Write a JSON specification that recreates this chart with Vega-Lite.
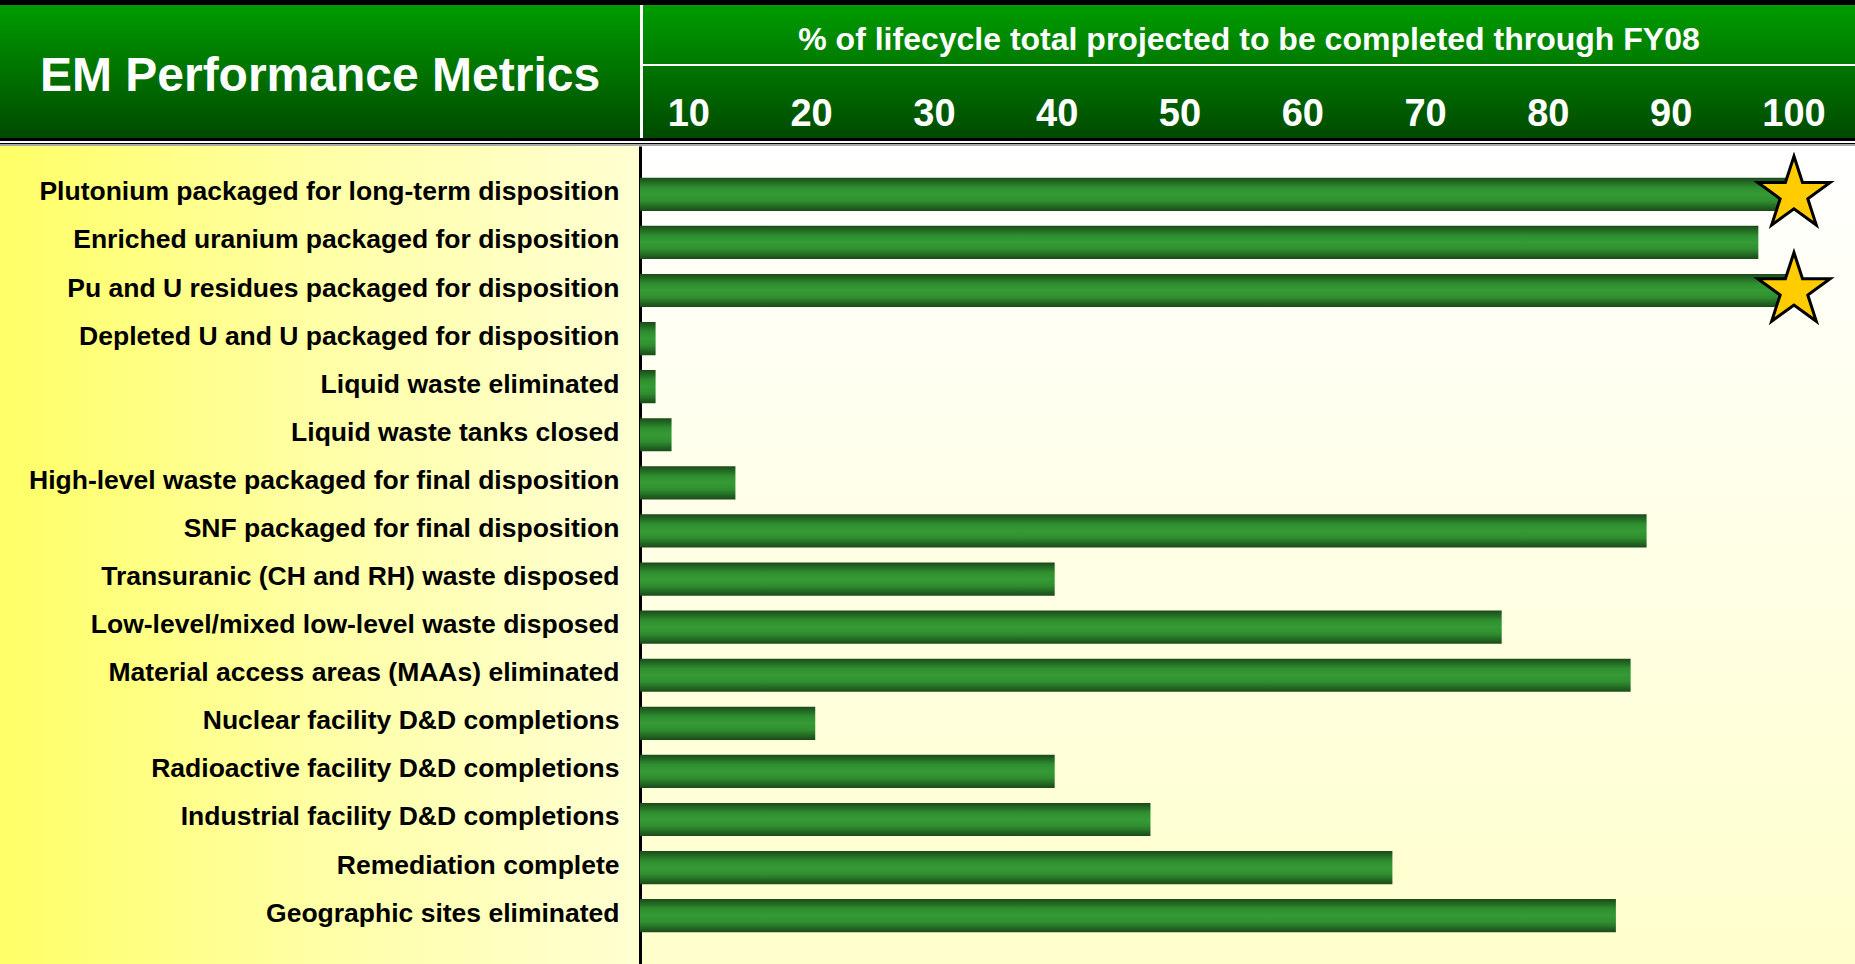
{
  "$schema": "https://vega.github.io/schema/vega-lite/v6.json",
  "padding": 0,
  "background": "white",
  "spacing": 0,
  "bounds": "full",
  "config": {"view": {"stroke": null}, "font": "Liberation Sans"},
  "datasets": {
    "metrics": [
      {"metric": "Plutonium packaged for long-term disposition", "pct": 100, "star": true},
      {"metric": "Enriched uranium packaged for disposition", "pct": 97.1, "star": false},
      {"metric": "Pu and U residues packaged for disposition", "pct": 100, "star": true},
      {"metric": "Depleted U and U packaged for disposition", "pct": 7.3, "star": false},
      {"metric": "Liquid waste eliminated", "pct": 7.3, "star": false},
      {"metric": "Liquid waste tanks closed", "pct": 8.6, "star": false},
      {"metric": "High-level waste packaged for final disposition", "pct": 13.8, "star": false},
      {"metric": "SNF packaged for final disposition", "pct": 88.0, "star": false},
      {"metric": "Transuranic (CH and RH)  waste disposed", "pct": 39.8, "star": false},
      {"metric": "Low-level/mixed low-level waste disposed", "pct": 76.2, "star": false},
      {"metric": "Material access areas (MAAs) eliminated", "pct": 86.7, "star": false},
      {"metric": "Nuclear facility D&D completions", "pct": 20.3, "star": false},
      {"metric": "Radioactive facility D&D completions", "pct": 39.8, "star": false},
      {"metric": "Industrial facility D&D completions", "pct": 47.6, "star": false},
      {"metric": "Remediation complete", "pct": 67.3, "star": false},
      {"metric": "Geographic sites eliminated", "pct": 85.5, "star": false}
    ],
    "ticks": [
      {"tick": 10}, {"tick": 20}, {"tick": 30}, {"tick": 40}, {"tick": 50},
      {"tick": 60}, {"tick": 70}, {"tick": 80}, {"tick": 90}, {"tick": 100}
    ],
    "none": [],
    "headerTitle": [{"t": "EM Performance Metrics"}],
    "axisTitle": [{"t": "% of lifecycle total projected to be completed through FY08"}]
  },
  "vconcat": [
    {
      "width": 1855, "height": 5,
      "view": {"fill": "#000000", "stroke": null},
      "data": {"name": "none"},
      "mark": {"type": "text"},
      "encoding": {"text": {"field": "t"}}
    },
    {
      "spacing": 3,
      "bounds": "full",
      "hconcat": [
        {
          "width": 640, "height": 133,
          "view": {"stroke": null, "fill": {"gradient": "linear", "x1": 0, "y1": 0, "x2": 0, "y2": 1, "stops": [{"offset": 0, "color": "#009c00"}, {"offset": 1, "color": "#004a00"}]}},
          "data": {"name": "headerTitle"},
          "mark": {"type": "text", "color": "white", "fontWeight": "bold", "fontSize": 48, "baseline": "middle", "align": "center", "dy": 5},
          "encoding": {"text": {"field": "t"}}
        },
        {
          "spacing": 2,
          "bounds": "full",
          "vconcat": [
            {
              "width": 1212, "height": 59,
              "view": {"stroke": null, "fill": {"gradient": "linear", "x1": 0, "y1": 0, "x2": 0, "y2": 1, "stops": [{"offset": 0, "color": "#009c00"}, {"offset": 1, "color": "#007a00"}]}},
              "data": {"name": "axisTitle"},
              "mark": {"type": "text", "color": "white", "fontWeight": "bold", "fontSize": 32, "baseline": "middle", "align": "center", "dy": 5},
              "encoding": {"text": {"field": "t"}}
            },
            {
              "width": 1212, "height": 72,
              "view": {"stroke": null, "fill": {"gradient": "linear", "x1": 0, "y1": 0, "x2": 0, "y2": 1, "stops": [{"offset": 0, "color": "#007600"}, {"offset": 1, "color": "#004a00"}]}},
              "data": {"name": "ticks"},
              "mark": {"type": "text", "color": "white", "fontWeight": "bold", "fontSize": 38, "baseline": "middle", "align": "center", "dy": 13},
              "encoding": {
                "x": {"field": "tick", "type": "quantitative", "scale": {"domain": [6.27, 104.97], "nice": false, "zero": false}, "axis": null},
                "text": {"field": "tick", "type": "quantitative"}
              }
            }
          ]
        }
      ]
    },
    {
      "width": 1855, "height": 3,
      "view": {"fill": "#000000", "stroke": null},
      "data": {"name": "none"},
      "mark": {"type": "text"},
      "encoding": {"text": {"field": "t"}}
    },
    {
      "width": 1855, "height": 2,
      "view": {"fill": "#ffffff", "stroke": null},
      "data": {"name": "none"},
      "mark": {"type": "text"},
      "encoding": {"text": {"field": "t"}}
    },
    {
      "width": 1855, "height": 1,
      "view": {"fill": "#000000", "stroke": null},
      "data": {"name": "none"},
      "mark": {"type": "text"},
      "encoding": {"text": {"field": "t"}}
    },
    {
      "width": 1855, "height": 2,
      "view": {"fill": "#a8a8a8", "stroke": null},
      "data": {"name": "none"},
      "mark": {"type": "text"},
      "encoding": {"text": {"field": "t"}}
    },
    {
      "spacing": 0,
      "bounds": "flush",
      "hconcat": [
        {
          "width": 640, "height": 818,
          "view": {"stroke": null, "fill": {"gradient": "linear", "x1": 0, "y1": 0, "x2": 1, "y2": 0, "stops": [{"offset": 0, "color": "#ffff66"}, {"offset": 0.5, "color": "#ffffa6"}, {"offset": 1, "color": "#ffffd2"}]}},
          "data": {"name": "none"},
          "mark": {"type": "text"},
          "encoding": {"text": {"field": "t"}}
        },
        {
          "width": 1215, "height": 818,
          "view": {"stroke": null, "fill": {"gradient": "linear", "x1": 0, "y1": 0, "x2": 0, "y2": 1, "stops": [{"offset": 0, "color": "#ffffff"}, {"offset": 1, "color": "#ffffcc"}]}},
          "data": {"name": "metrics"},
          "encoding": {
            "y": {
              "field": "metric", "type": "nominal", "sort": null,
              "scale": {"paddingInner": 0.31, "paddingOuter": 0.66},
              "axis": {
                "title": null, "ticks": false, "tickSize": 0, "grid": false,
                "domain": true, "domainColor": "#000000", "domainWidth": 3,
                "labelFont": "Liberation Sans", "labelFontWeight": "bold", "labelFontSize": 26.5,
                "labelColor": "#000000", "labelLimit": 640, "labelPadding": 21, "labelOffset": -2
              }
            },
            "x": {"field": "pct", "type": "quantitative", "scale": {"domain": [6.03, 104.97], "nice": false, "zero": false}, "axis": null}
          },
          "layer": [
            {
              "mark": {
                "type": "bar", "clip": true,
                "color": {"gradient": "linear", "x1": 0, "y1": 0, "x2": 0, "y2": 1, "stops": [
                  {"offset": 0, "color": "#1a4a1a"},
                  {"offset": 0.3, "color": "#2f8f2f"},
                  {"offset": 0.5, "color": "#359a35"},
                  {"offset": 0.7, "color": "#2f8f2f"},
                  {"offset": 1, "color": "#1a4a1a"}
                ]}
              }
            },
            {
              "transform": [{"filter": "datum.star"}],
              "mark": {
                "type": "point", "filled": true, "opacity": 1,
                "shape": "M0,-1L0.2245,-0.309L0.9511,-0.309L0.3633,0.118L0.5878,0.809L0,0.382L-0.5878,0.809L-0.3633,0.118L-0.9511,-0.309L-0.2245,-0.309Z",
                "size": 5776, "fill": "#ffcc00", "stroke": "#000000", "strokeWidth": 3
              }
            }
          ]
        }
      ]
    }
  ]
}
